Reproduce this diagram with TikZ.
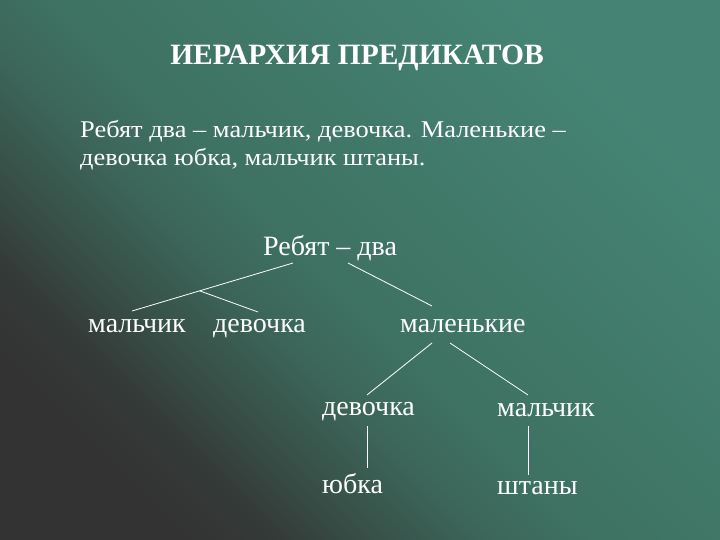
\documentclass[tikz,border=0pt]{standalone}
\usepackage{fontspec}
\setmainfont{Liberation Serif}
\definecolor{bgdark}{HTML}{333333}
\definecolor{bgdim}{HTML}{343A38}
\definecolor{bglow}{HTML}{38524A}
\definecolor{bgmid}{HTML}{3C6659}
\definecolor{bgcorner}{HTML}{3E7262}
\definecolor{bgteal}{HTML}{458474}
\pgfdeclarehorizontalshading{slide}{100bp}{color(0bp)=(bgdark); color(25bp)=(bgdark);
    color(30bp)=(bgdim); color(36bp)=(bglow); color(42bp)=(bgmid); color(48bp)=(bgcorner);
    color(75bp)=(bgteal); color(100bp)=(bgteal)}

\begin{document}
\begin{tikzpicture}[x=1pt, y=-1pt,
    word/.style={white, anchor=base west, inner sep=0pt, font=\fontsize{28}{32}\selectfont},
    link/.style={white, line width=0.8pt}]
    \shade[shading=slide, shading angle=45] (0,0) rectangle (720,540);

    \node[white, anchor=base, inner sep=0pt, font=\fontsize{29.5}{34}\selectfont\bfseries] (head) at (357,65) {ИЕРАРХИЯ ПРЕДИКАТОВ};
    \node[white, anchor=base west, inner sep=0pt, align=left, xscale=1.1, font=\fontsize{24}{28}\selectfont] (text) at (80,166)
        {Ребят два – мальчик, девочка. Маленькие –\\девочка юбка, мальчик штаны.};

    \node[word] (root) at (263,255) {Ребят – два};
    \node[word] (boy) at (88,332) {мальчик};
    \node[word] (girl) at (213,332) {девочка};
    \node[word] (small) at (400,332) {маленькие};
    \node[word] (girltwo) at (322,415) {девочка};
    \node[word] (boytwo) at (497,416) {мальчик};
    \node[word] (skirt) at (322,493) {юбка};
    \node[word] (pants) at (497,494) {штаны};

    \draw[link] ([xshift=30pt, yshift=-8pt]root.base west) -- coordinate[pos=0.58] (fork) ([xshift=44pt, yshift=21pt]boy.base west);
    \draw[link] (fork) -- ([xshift=45pt, yshift=20pt]girl.base west);
    \draw[link] ([xshift=85pt, yshift=-8pt]root.base west) -- ([xshift=32pt, yshift=26pt]small.base west);
    \draw[link] ([xshift=32pt, yshift=-11pt]small.base west) -- ([xshift=45pt, yshift=20pt]girltwo.base west);
    \draw[link] ([xshift=50pt, yshift=-11pt]small.base west) -- ([xshift=31pt, yshift=21pt]boytwo.base west);
    \draw[link] ([xshift=45pt, yshift=-11pt]girltwo.base west) -- ([xshift=45pt, yshift=25pt]skirt.base west);
    \draw[link] ([xshift=31pt, yshift=-10pt]boytwo.base west) -- ([xshift=31pt, yshift=19pt]pants.base west);
\end{tikzpicture}
\end{document}
